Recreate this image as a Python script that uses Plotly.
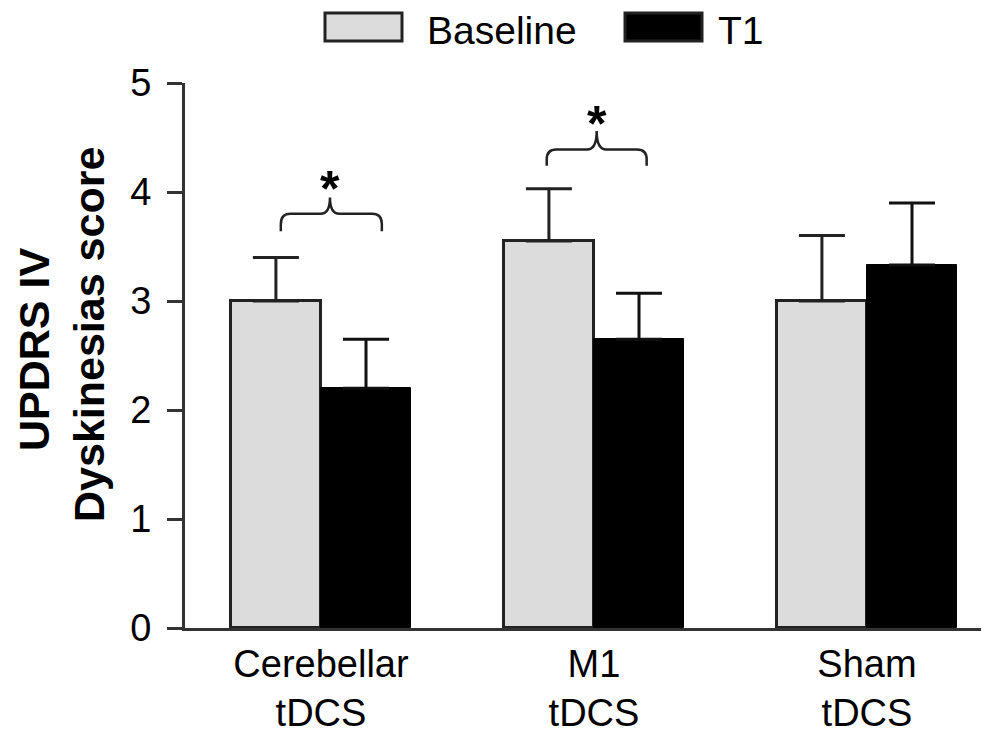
import plotly.graph_objects as go

# ---- data ----
categories = ["Cerebellar<br>tDCS", "M1<br>tDCS", "Sham<br>tDCS"]
baseline_mean = [3.00, 3.55, 3.00]
baseline_err = [0.40, 0.48, 0.60]
t1_mean = [2.20, 2.65, 3.33]
t1_err = [0.45, 0.42, 0.57]
y_ticks = [0, 1, 2, 3, 4, 5]

# ---- layout geometry (pixels; page is offset by the 8px body margin) ----
OFF = 8
W, H = 989 - OFF, 734 - OFF
ML, MR, MT = 185 - OFF, 0, 83 - OFF
MB = H - (628 - OFF)
PW, PH = W - ML - MR, H - MT - MB
BAR_W = 0.33
FONT = "Liberation Sans, Arial, sans-serif"
EDGE = "#222222"

xpos = list(range(len(categories)))

fig = go.Figure()
fig.add_trace(go.Bar(
    x=xpos, y=baseline_mean, width=BAR_W, offset=-BAR_W, name="Baseline",
    marker=dict(color="#dcdcdc", line=dict(color=EDGE, width=3)),
    error_y=dict(type="data", array=baseline_err, arrayminus=[0]*3, symmetric=False,
                 color=EDGE, thickness=3, width=23),
))
fig.add_trace(go.Bar(
    x=xpos, y=t1_mean, width=BAR_W, offset=0, name="T1",
    marker=dict(color="#000000", line=dict(color="#000000", width=1)),
    error_y=dict(type="data", array=t1_err, arrayminus=[0]*3, symmetric=False,
                 color="#111111", thickness=3, width=23),
))

fig.update_layout(
    width=W, height=H, margin=dict(l=ML, r=MR, t=MT, b=MB, pad=0),
    paper_bgcolor="white", plot_bgcolor="white", showlegend=False,
    font=dict(family=FONT, color="#000000"),
    bargap=0,
)
fig.update_xaxes(
    range=[-0.498, 2.447], tickmode="array", tickvals=xpos, ticktext=categories,
    showgrid=False, zeroline=False, showline=True, linecolor="#333333", linewidth=3,
    ticks="", tickfont=dict(size=38, family=FONT),
)
fig.update_yaxes(
    range=[0, 5], tickmode="array", tickvals=y_ticks, ticktext=[str(v) for v in y_ticks],
    showgrid=False, zeroline=False, showline=True, linecolor="#333333", linewidth=3,
    ticks="outside", ticklen=15, tickwidth=3, tickcolor="#333333",
    tickfont=dict(size=38, family=FONT), ticklabelstandoff=8,
)

def px2paper_x(px):
    return (px - OFF - ML) / PW

def px2paper_y(py):
    return (H - MB - (py - OFF)) / PH

# y-axis title (two lines)
fig.add_annotation(text="<b>UPDRS IV</b>", textangle=-90, xref="paper", yref="paper",
                   x=px2paper_x(34), y=px2paper_y(350), showarrow=False, xanchor="center", yanchor="middle",
                   font=dict(size=43, family=FONT))
fig.add_annotation(text="<b>Dyskinesias score</b>", textangle=-90, xref="paper", yref="paper",
                   x=px2paper_x(89), y=px2paper_y(335), showarrow=False, xanchor="center", yanchor="middle",
                   font=dict(size=43, family=FONT))

# legend (drawn manually)
for (x0, x1, fill, label, tx) in [(325, 402, "#dcdcdc", "Baseline", 425), (625, 702, "#000000", "T1", 716)]:
    fig.add_shape(type="rect", xref="paper", yref="paper",
                  x0=px2paper_x(x0), x1=px2paper_x(x1), y0=px2paper_y(41), y1=px2paper_y(13),
                  fillcolor=fill, line=dict(color=EDGE, width=3))
    fig.add_annotation(text=label, xref="paper", yref="paper", x=px2paper_x(tx), y=px2paper_y(30),
                       xanchor="left", yanchor="middle", showarrow=False,
                       font=dict(size=39, family=FONT))

# significance brackets
def bracket(xl, xr, xc, y_end, y_h, y_peak):
    dx = 0.035
    dy = (y_h - y_end) * 0.6
    return (f"M {xl},{y_end} L {xl},{y_h - dy} Q {xl},{y_h} {xl + dx},{y_h} "
            f"L {xc - dx},{y_h} Q {xc},{y_h} {xc},{y_peak} "
            f"Q {xc},{y_h} {xc + dx},{y_h} L {xr - dx},{y_h} "
            f"Q {xr},{y_h} {xr},{y_h - dy} L {xr},{y_end}")

brackets = [(-0.147, 0.223, 0.033, 3.64, 3.80, 3.95, 4.11),
            (0.827, 1.193, 1.010, 4.24, 4.39, 4.56, 4.71)]
for (xl, xr, xc, ye, yh, yp, ys) in brackets:
    fig.add_shape(type="path", xref="x", yref="y", path=bracket(xl, xr, xc, ye, yh, yp),
                  line=dict(color=EDGE, width=2.5))
    fig.add_annotation(text="<b>*</b>", x=xc, y=ys, xref="x", yref="y", showarrow=False,
                       yanchor="middle", yshift=-9, font=dict(size=50, family=FONT))

fig.write_html("out.html")
